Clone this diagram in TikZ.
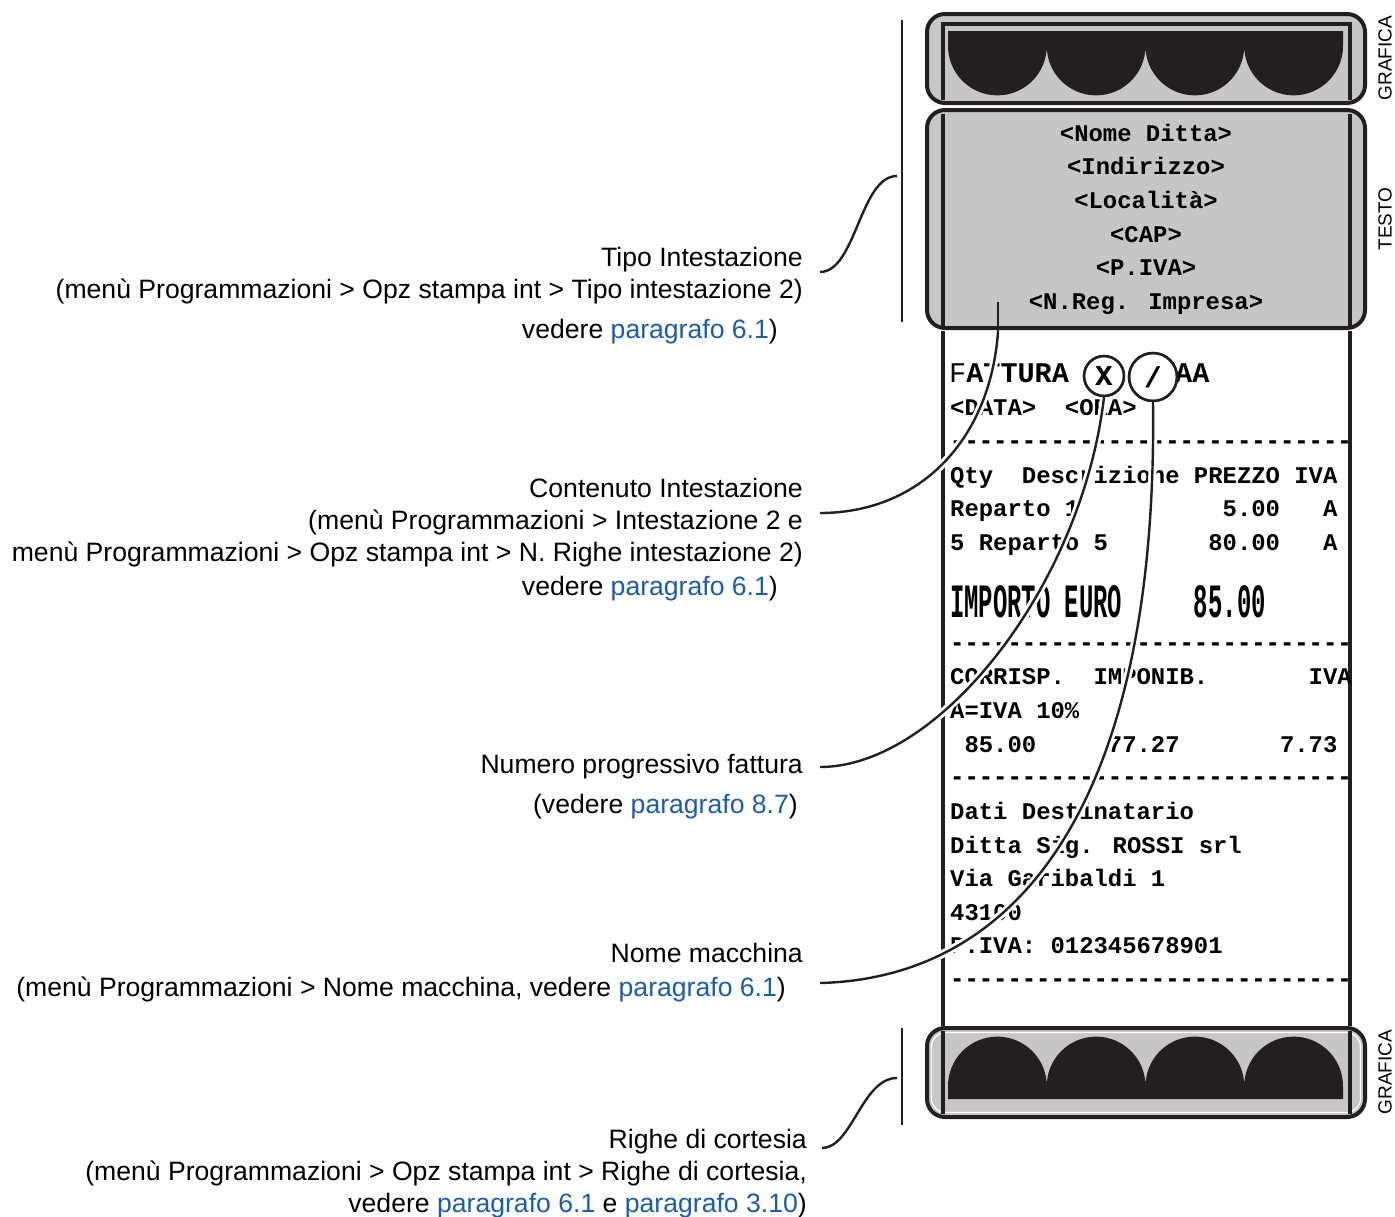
\documentclass[tikz,border=0pt]{standalone}
\usepackage{fontspec}
\usepackage{graphicx}
\setmainfont{Liberation Sans}
\newfontfamily\mono{Liberation Mono}[Ligatures=TeXOff]
\definecolor{linkblue}{HTML}{1A5DAB}
\definecolor{paper}{HTML}{C6C6C6}
\definecolor{ink}{HTML}{231F20}
\newcommand\colx[1]{950+14.34*#1}
\newcommand\dsh{\makebox[14.34pt]{\scalebox{1.0}[1.15]{-}}}
\newcommand\dshrow{\dsh\dsh\dsh\dsh\dsh\dsh\dsh\dsh\dsh\dsh\dsh\dsh\dsh\dsh\dsh\dsh\dsh\dsh\dsh\dsh\dsh\dsh\dsh\dsh\dsh\dsh\dsh\dsh}
\begin{document}
\begin{tikzpicture}[x=1pt,y=-1pt,
  lbl/.style={anchor=base east, inner sep=0pt, font=\fontsize{26.6}{30}\selectfont},
  mt/.style={anchor=base west, inner sep=0pt, font=\mono\bfseries\fontsize{23.9}{26}\selectfont},
  mtc/.style={mt, anchor=base},
  big/.style={font=\mono\bfseries\fontsize{28.5}{30}\selectfont},
  side/.style={rotate=90, inner sep=0pt, font=\fontsize{19}{20}\selectfont},
  panel/.style={draw=ink, line width=4pt, rounded corners=18pt, fill=paper},
  paperedge/.style={draw=ink, line width=4pt},
  bracket/.style={draw=ink, line width=2pt},
  conn/.style={draw=ink, line width=2.4pt, preaction={draw=white, line width=8pt}},
  circ/.style={circle, draw=ink, line width=2.4pt, inner sep=0pt, font=\mono\bfseries\fontsize{28.5}{30}\selectfont},
  lobes/.style={fill=ink}
]
\useasboundingbox (0,0) rectangle (1395,1216);
\fill[white] (0,0) rectangle (1395,1216);

% panels
\path[panel] (927,14) rectangle (1365,103);
\path[panel] (927,110) rectangle (1365,328);
\path[panel] (927,1028) rectangle (1365,1117);
\draw[white, line width=1.2pt, rounded corners=14pt] (931.5,1032.5) rectangle (1360.5,1112.5);

% graphic lobes
\fill[lobes] (948,31) -- (948,46)
  arc[start angle=180,end angle=0,radius=49.375]
  arc[start angle=180,end angle=0,radius=49.375]
  arc[start angle=180,end angle=0,radius=49.375]
  arc[start angle=180,end angle=0,radius=49.375]
  -- (1343,31) -- cycle;
\fill[lobes] (948,1099) -- (948,1086)
  arc[start angle=180,end angle=360,radius=49.375]
  arc[start angle=180,end angle=360,radius=49.375]
  arc[start angle=180,end angle=360,radius=49.375]
  arc[start angle=180,end angle=360,radius=49.375]
  -- (1343,1099) -- cycle;

% paper edges
\draw[paperedge] (943,100) -- (943,24) -- (1350,24) -- (1350,100);
\draw[paperedge] (943,114) -- (943,326);
\draw[paperedge] (1350,114) -- (1350,326);
\draw[paperedge] (943,331) -- (943,1026);
\draw[paperedge] (1350,331) -- (1350,1026);
\draw[paperedge] (943,1031) -- (943,1114);
\draw[paperedge] (1350,1031) -- (1350,1114);

% brackets
\draw[bracket] (902,20) -- (902,322);
\draw[bracket] (902,1028) -- (902,1125);

% side labels
\node[side] (g1) at (1385,58) {GRAFICA};
\node[side] (g2) at (1385,219) {TESTO};
\node[side] (g3) at (1385,1072) {GRAFICA};

% header text
\node[mtc] (h1) at (1146,141) {<Nome Ditta>};
\node[mtc] (h2) at (1146,174) {<Indirizzo>};
\node[mtc] (h3) at (1146,208) {<Località>};
\node[mtc] (h4) at (1146,242) {<CAP>};
\node[mtc] (h5) at (1146,275) {<P.IVA>};
\node[mtc] (h6) at (1146,309) {<N.Reg. Impresa>};

% receipt body
\node[mt, big] (f1) at (949,382) {{\mdseries F}ATTURA};
\node[mt, big] (f2) at (1175,382) {AA};
\node[mt] (r1) at (950,415) {<DATA>};
\node[mt] (r2) at ({\colx{8}},415) {<ORA>};
\node[mt] (d1) at (950,449) {\dshrow};
\node[mt] (q1) at (950,483) {Qty};
\node[mt] (q2) at ({\colx{5}},483) {Descrizione};
\node[mt] (q3) at ({\colx{17}},483) {PREZZO};
\node[mt] (q4) at ({\colx{24}},483) {IVA};
\node[mt] (a1) at (950,516) {Reparto 1};
\node[mt] (a2) at ({\colx{19}},516) {5.00};
\node[mt] (a3) at ({\colx{26}},516) {A};
\node[mt] (b1) at (950,550) {5 Reparto 5};
\node[mt] (b2) at ({\colx{18}},550) {80.00};
\node[mt] (b3) at ({\colx{26}},550) {A};
\node[mt] (i1) at (950,617) {\scalebox{1}[2]{IMPORTO EURO}};
\node[mt] (i2) at ({\colx{17}},617) {\scalebox{1}[2]{85.00}};
\node[mt] (d2) at (950,651) {\dshrow};
\node[mt] (c1) at (950,684) {CORRISP.};
\node[mt] (c2) at ({\colx{10}},684) {IMPONIB.};
\node[mt] (c3) at ({\colx{25}},684) {IVA};
\node[mt] (v1) at (950,718) {A=IVA 10\%};
\node[mt] (n1) at ({\colx{1}},752) {85.00};
\node[mt] (n2) at ({\colx{11}},752) {77.27};
\node[mt] (n3) at ({\colx{23}},752) {7.73};
\node[mt] (d3) at (950,785) {\dshrow};
\node[mt] (e1) at (950,819) {Dati Destinatario};
\node[mt] (e2) at (950,853) {Ditta Sig. ROSSI srl};
\node[mt] (e3) at (950,886) {Via Garibaldi 1};
\node[mt] (e4) at (950,920) {43100};
\node[mt] (e5) at (950,953) {P.IVA: 012345678901};
\node[mt] (d4) at (950,987) {\dshrow};

% labels
\node[lbl] (l1a) at (803,266.5) {Tipo Intestazione};
\node[lbl] (l1b) at (803,298.5) {(menù Programmazioni > Opz stampa int > Tipo intestazione 2)};
\node[lbl] (l1c) at (778,338.5) {vedere \textcolor{linkblue}{paragrafo 6.1})};

\node[lbl] (l2a) at (803,497.5) {Contenuto Intestazione};
\node[lbl] (l2b) at (803,529.5) {(menù Programmazioni > Intestazione 2 e};
\node[lbl] (l2c) at (803,561.5) {menù Programmazioni > Opz stampa int > N. Righe intestazione 2)};
\node[lbl] (l2d) at (778,595.5) {vedere \textcolor{linkblue}{paragrafo 6.1})};

\node[lbl] (l3a) at (803,773.5) {Numero progressivo fattura};
\node[lbl] (l3b) at (798,813.5) {(vedere \textcolor{linkblue}{paragrafo 8.7})};

\node[lbl] (l4a) at (803,962.5) {Nome macchina};
\node[lbl] (l4b) at (786,996.5) {(menù Programmazioni > Nome macchina, vedere \textcolor{linkblue}{paragrafo 6.1})};

\node[lbl] (l5a) at (807,1148.5) {Righe di cortesia};
\node[lbl] (l5b) at (807,1180.5) {(menù Programmazioni > Opz stampa int > Righe di cortesia,};
\node[lbl] (l5c) at (807,1212.5) {vedere \textcolor{linkblue}{paragrafo 6.1} e \textcolor{linkblue}{paragrafo 3.10})};

% circles
\node[circ, minimum size=40pt] (cx) at (1104,376) {X};
\node[circ, minimum size=48pt] (cs) at (1153,377) {/};

% connectors
\coordinate (p1s) at (820,272);
\coordinate (p1e) at (897,176);
\draw[conn] (p1s) .. controls (856,272) and (860,176) .. (p1e);

\coordinate (p2s) at (820,513);
\coordinate (p2m) at (998,332);
\coordinate (p2e) at (998,302);
\draw[conn] (p2s) .. controls (920,513) and (990,440) .. (p2m);
\draw[draw=ink, line width=2.4pt] (p2m) -- (p2e);

\coordinate (p3s) at (820,767);
\draw[conn] (p3s) .. controls (940,767) and (1082,585) .. (cx.south);

\coordinate (p4s) at (820,983);
\draw[conn] (p4s) .. controls (1020,978) and (1158,800) .. (cs.south);

\coordinate (p5s) at (822,1148);
\coordinate (p5e) at (897,1078);
\draw[conn] (p5s) .. controls (852,1148) and (862,1078) .. (p5e);

% redraw circles on top of halos
\node[circ, minimum size=40pt] (cx2) at (cx) {X};
\node[circ, minimum size=48pt] (cs2) at (cs) {/};
\end{tikzpicture}
\end{document}
